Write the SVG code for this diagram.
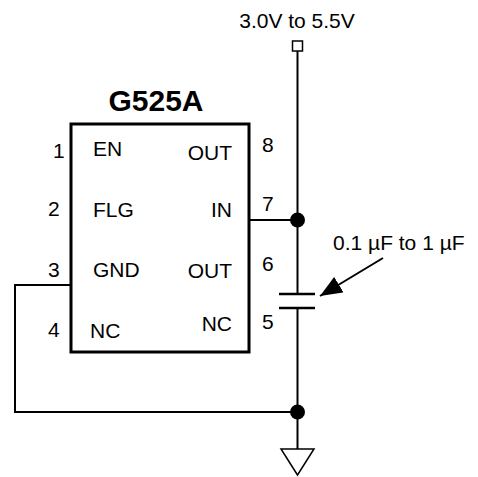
<svg xmlns="http://www.w3.org/2000/svg" width="478" height="477" viewBox="0 0 478 477">
<defs>
<style>
text{font-family:"Liberation Sans",Arial,sans-serif;font-size:21px;fill:#000}
.title{font-weight:bold;font-size:30px}
.w{fill:none;stroke:#000;stroke-width:2}
.dot{fill:#000}
</style>
<marker id="ah" viewBox="0 0 22 18" refX="22" refY="9" markerWidth="22" markerHeight="18" markerUnits="userSpaceOnUse" orient="auto">
<path d="M0,0 L22,9 L0,18 Z" fill="#000"/>
</marker>
</defs>
<rect width="478" height="477" fill="#fff"/>
<g id="ic">
<rect x="71" y="124" width="178" height="228" fill="none" stroke="#000" stroke-width="3"/>
<text class="title" x="156" y="111" text-anchor="middle">G525A</text>
<text x="53" y="158">1</text>
<text x="48" y="216">2</text>
<text x="48" y="277">3</text>
<text x="48" y="337">4</text>
<text x="93" y="156">EN</text>
<text x="93" y="217">FLG</text>
<text x="93" y="277">GND</text>
<text x="90" y="338">NC</text>
<text x="232" y="160" text-anchor="end">OUT</text>
<text x="232" y="217" text-anchor="end">IN</text>
<text x="232" y="278" text-anchor="end">OUT</text>
<text x="232" y="331" text-anchor="end">NC</text>
<text x="262" y="152">8</text>
<text x="262" y="211">7</text>
<text x="262" y="271">6</text>
<text x="262" y="329">5</text>
</g>
<g id="supply">
<rect x="292.5" y="41" width="10" height="10" fill="#fff" stroke="#000" stroke-width="1.5"/>
<text x="297" y="28" text-anchor="middle">3.0V to 5.5V</text>
</g>
<g id="cap">
<line x1="279" y1="294" x2="315" y2="294" stroke="#000" stroke-width="2.5"/>
<line x1="279" y1="308" x2="315" y2="308" stroke="#000" stroke-width="2.5"/>
<text x="333" y="250">0.1 µF to 1 µF</text>
</g>
<g id="ground">
<path d="M281,449 L314,449 L297.5,475 Z" fill="#fff" stroke="#000" stroke-width="1.5"/>
</g>
<g id="connectors">
<path class="w" d="M297.5,51 V294"/>
<path class="w" d="M297.5,308 V449"/>
<path class="w" d="M249,220 H297.5"/>
<path class="w" d="M71,285 H15 V412 H297.5"/>
<circle class="dot" cx="297.5" cy="220" r="7.5"/>
<circle class="dot" cx="297.5" cy="412" r="7.5"/>
<line x1="383" y1="258" x2="320" y2="296" stroke="#000" stroke-width="2" marker-end="url(#ah)"/>
</g>
</svg>
